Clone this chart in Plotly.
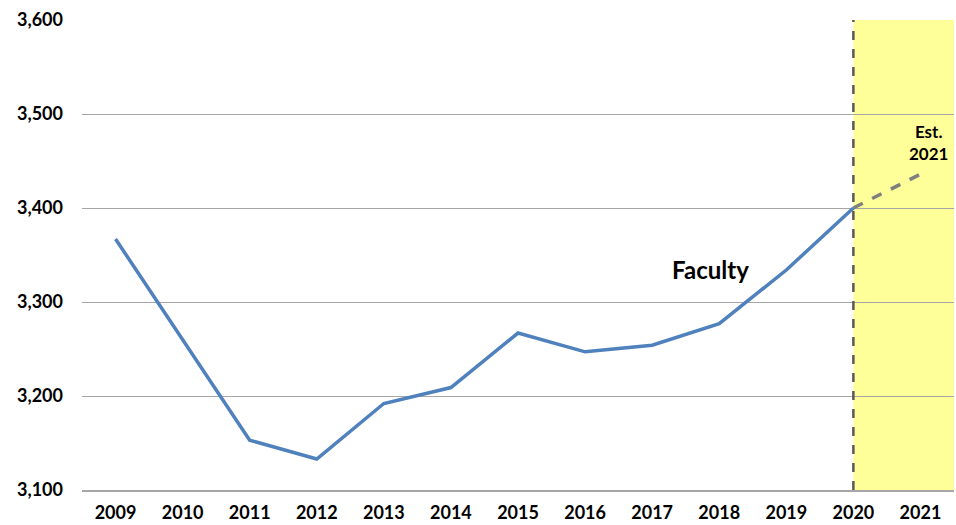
import plotly.graph_objects as go

years = [2009, 2010, 2011, 2012, 2013, 2014, 2015, 2016, 2017, 2018, 2019, 2020]
faculty = [3367, 3260, 3153, 3133, 3192, 3209, 3267, 3247, 3254, 3277, 3334, 3400]
est_years = [2020, 2021]
est_values = [3400, 3436]
y_ticks = [3100, 3200, 3300, 3400, 3500, 3600]

FONT = "Lato"

fig = go.Figure()
fig.add_trace(go.Scatter(x=years, y=faculty, mode="lines",
                         line=dict(color="#4f81bd", width=3.5), showlegend=False))
fig.add_trace(go.Scatter(x=est_years, y=est_values, mode="lines",
                         line=dict(color="#7f7f7f", width=3.5, dash="dash"), showlegend=False))

fig.add_shape(type="rect", xref="x", yref="paper", x0=2020, x1=2021.5, y0=0, y1=1,
              fillcolor="#ffff99", line_width=0, layer="below")
fig.add_shape(type="line", xref="x", yref="paper", x0=2020, x1=2020, y0=0, y1=1,
              line=dict(color="#595959", width=2.5, dash="dash"))

fig.add_annotation(x=2017.87, y=3335, text="<b>Faculty</b>", showarrow=False,
                   font=dict(family=FONT, size=24, color="black"))
fig.add_annotation(x=2021.12, y=3470, text="<b>Est.<br>2021</b>", showarrow=False,
                   font=dict(family=FONT, size=17, color="black"))

fig.update_layout(
    width=956, height=525,
    margin=dict(l=82, r=2, t=20, b=35),
    plot_bgcolor="white", paper_bgcolor="white",
    font=dict(family=FONT, size=18, color="black"),
)
fig.update_xaxes(range=[2008.5, 2021.5], tickvals=years + [2021],
                 ticktext=[f"<b>{y}</b>" for y in years + [2021]],
                 showgrid=False, showline=True, linecolor="#a6a6a6", linewidth=1.5,
                 ticks="", zeroline=False, automargin=False, ticklabelstandoff=6)
fig.update_yaxes(range=[3100, 3600], tickvals=y_ticks,
                 ticktext=[f"<b>{v:,}</b>" for v in y_ticks],
                 showgrid=True, gridcolor="#a6a6a6", gridwidth=1.2,
                 showline=False, zeroline=False, ticks="", ticklabelstandoff=18,
                 automargin=False)

fig.write_html(
    "out.html",
    config={"displayModeBar": False},
    post_script="document.body.style.margin='0';document.body.style.overflow='hidden';",
)
